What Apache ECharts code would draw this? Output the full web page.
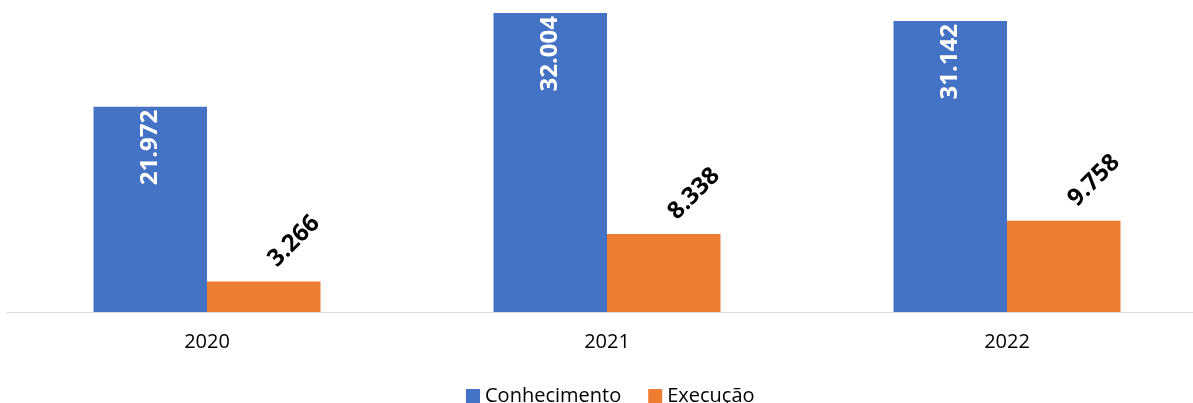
<!DOCTYPE html>
<html>
<head>
<meta charset="utf-8">
<script src="https://cdn.jsdelivr.net/npm/echarts@6/dist/echarts.min.js"></script>
<style>
  html, body { margin: 0; padding: 0; background: #fff; }
  #chart { width: 1193px; height: 403px; }
</style>
</head>
<body>
<div id="chart"></div>
<script>
var anos = ['2020', '2021', '2022']
var conhecimento = [21.972, 32.004, 31.142]
var execucao = [3.266, 8.338, 9.758]

// numeros no formato pt-BR (ponto como separador)
function fmt(v) {
  return v.toFixed(3)
}

var chart = echarts.init(document.getElementById('chart'))

var option = {
  animation: false,
  textStyle: { fontFamily: 'Open Sans' },
  color: ['#4472c4', '#ed7d31'],
  grid: {
    left: 7,
    width: 1200,
    top: 13,
    bottom: 91,
    outerBoundsMode: 'none'
  },
  legend: {
    top: 381,
    left: 461,
    itemWidth: 14,
    itemHeight: 14,
    itemGap: 27,
    icon: 'rect',
    textStyle: { fontSize: 20, color: '#000', fontFamily: 'Open Sans' },
    data: ['Conhecimento', 'Execução']
  },
  xAxis: {
    type: 'category',
    data: anos,
    axisLine: { lineStyle: { color: '#d9d9d9', width: 1 } },
    axisTick: { show: false },
    axisLabel: { fontSize: 20, color: '#000', margin: 20 }
  },
  yAxis: {
    type: 'value',
    min: 0,
    max: function (v) { return v.max },
    show: false,
    splitLine: { show: false }
  },
  series: [
    {
      name: 'Conhecimento',
      type: 'bar',
      data: conhecimento,
      barWidth: 113.5,
      barGap: '0%',
      label: {
        show: true,
        position: 'insideTop',
        rotate: 90,
        align: 'right',
        verticalAlign: 'middle',
        distance: 3,
        color: '#fff',
        fontSize: 24,
        fontWeight: 'bold',
        formatter: function (p) { return fmt(p.value) }
      }
    },
    {
      name: 'Execução',
      type: 'bar',
      data: execucao,
      barWidth: 113.5,
      label: {
        show: true,
        position: 'top',
        rotate: 45,
        align: 'left',
        verticalAlign: 'bottom',
        distance: 10,
        offset: [12, 12],
        color: '#000',
        fontSize: 24,
        fontWeight: 'bold',
        formatter: function (p) { return fmt(p.value) }
      }
    }
  ]
}
chart.setOption(option)
</script>
</body>
</html>
